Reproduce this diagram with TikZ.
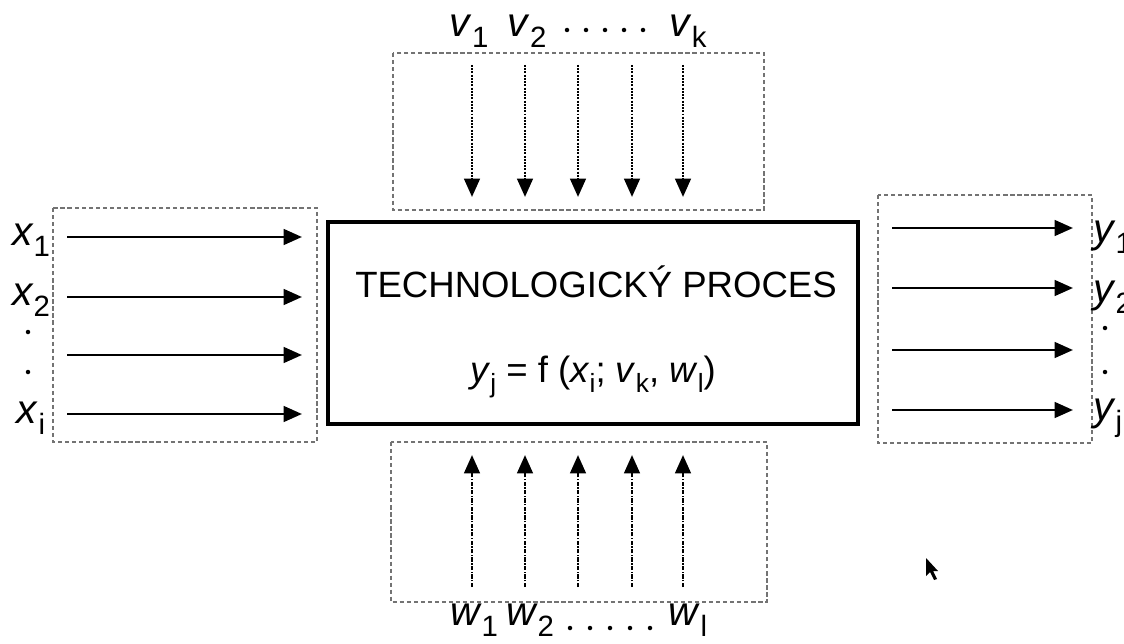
\documentclass[tikz,border=0pt]{standalone}
\usepackage{fontspec}
\setmainfont{Liberation Sans}
\usetikzlibrary{arrows.meta}
\usetikzlibrary{positioning}
\newcommand{\var}[2]{\textit{#1}\raisebox{-0.5ex}{\scalebox{0.72}{#2}}}

\begin{document}
\begin{tikzpicture}[x=0.025cm,y=-0.025cm,>={Triangle[length=13pt,width=11pt]},
    box/.style={draw=gray!90!black,line width=0.9pt,dash pattern=on 3pt off 2pt},
    flow/.style={->,line width=2pt},
    vflow/.style={->,line width=2pt,dash pattern=on 1.4pt off 0.9pt},
    wflow/.style={->,line width=2pt,dash pattern=on 3pt off 1pt on 1pt off 1pt},
    lab/.style={font=\fontsize{29}{32}\selectfont,inner sep=0pt},
    dot/.style={circle,fill=black,inner sep=0pt,minimum size=3.2pt}]
  \useasboundingbox (0,0) rectangle (1124,644);
  \begin{scope}
    % process block
    \node[draw,line width=2.4pt,minimum width=13.25cm,minimum height=5.05cm] (proc) at (593,323) {};
    \node[font=\fontsize{26}{29}\selectfont] (title) at (596,282) {TECHNOLOGICKÝ PROCES};
    \node[font=\fontsize{26}{29}\selectfont] (eq) at (593,377) {\var{y}{j} = f (\var{x}{i}; \var{v}{k}, \var{w}{l})};

    % dashed frames
    \draw[box] (53,208) rectangle (317,442);
    \draw[box] (878,195) rectangle (1092,443);
    \draw[box] (393,53) rectangle (764,210);
    \draw[box] (391,442) rectangle (767,602);

    % inputs x
    \foreach \y [count=\i] in {237,297,355,414} {
      \coordinate (xa\i) at (67,\y);
      \coordinate (xb\i) at (302,\y);
      \draw[flow] (xa\i) -- (xb\i);
    }
    \node[lab] (x1) at (31,240) {\var{x}{1}};
    \node[lab] (x2) at (31,300) {\var{x}{2}};
    \node[dot] (xd1) at (28,332) {};
    \node[dot] (xd2) at (28,372) {};
    \node[lab] (xi) at (31,418) {\var{x}{i}};

    % outputs y
    \foreach \y [count=\i] in {228,288,350,410} {
      \coordinate (ya\i) at (892,\y);
      \coordinate (yb\i) at (1073,\y);
      \draw[flow] (ya\i) -- (yb\i);
    }
    \node[lab,anchor=west] (y1) at (1093,237) {\var{y}{1}};
    \node[lab,anchor=west] (y2) at (1093,297) {\var{y}{2}};
    \node[dot] (yd1) at (1105,328) {};
    \node[dot] (yd2) at (1105,372) {};
    \node[lab,anchor=west] (yj) at (1093,418) {\var{y}{j}};

    % disturbances v
    \foreach \x [count=\i] in {472,525,578,632,683} {
      \coordinate (va\i) at (\x,65);
      \coordinate (vb\i) at (\x,197);
      \draw[vflow] (va\i) -- (vb\i);
    }
    \node[lab] (v1) at (469,31) {\var{v}{1}};
    \node[lab] (v2) at (527,31) {\var{v}{2}};
    \foreach \x in {567,586,605,624,643} \node[dot] at (\x,30) {};
    \node[lab] (vk) at (688,31) {\var{v}{k}};

    % controls w
    \foreach \x [count=\i] in {472,525,578,632,683} {
      \coordinate (wa\i) at (\x,587);
      \coordinate (wb\i) at (\x,455);
      \draw[wflow] (wa\i) -- (wb\i);
    }
    \node[lab] (w1) at (474,620) {\var{w}{1}};
    \node[lab] (w2) at (530,620) {\var{w}{2}};
    \foreach \x in {570,590,610,630,650} \node[dot] at (\x,628) {};
    \node[lab] (wl) at (688,620) {\var{w}{l}};

    % pointer
    \fill (926,558) -- (926,576) -- (930,572) -- (934,580) -- (937,579) -- (933,571) -- (938,571) -- cycle;
  \end{scope}
\end{tikzpicture}
\end{document}
